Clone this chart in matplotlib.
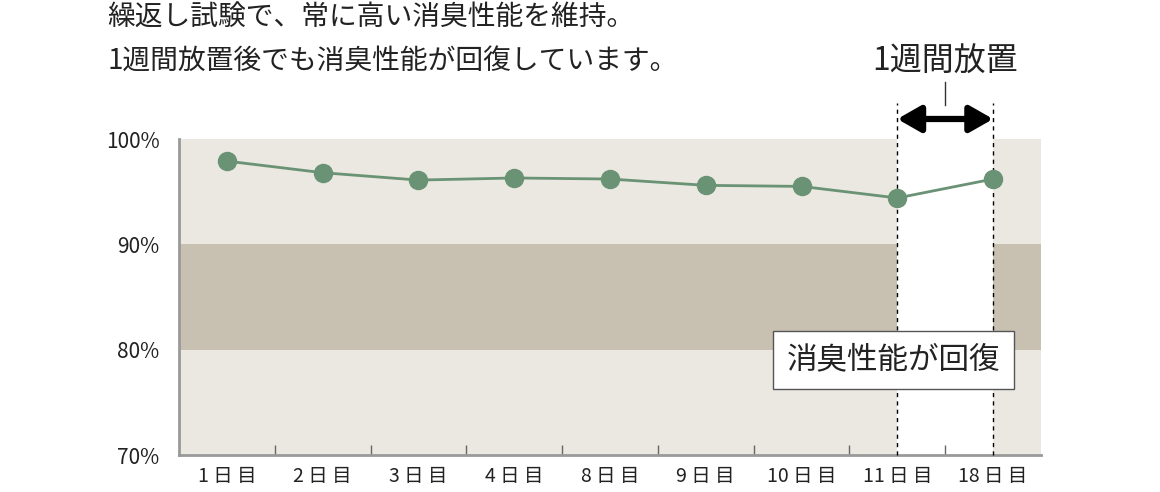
import numpy as np
import matplotlib.pyplot as plt

plt.rcParams['font.family'] = ['Noto Sans CJK JP', 'DejaVu Sans']

days = ['1 日 目', '2 日 目', '3 日 目', '4 日 目', '8 日 目', '9 日 目',
        '10 日 目', '11 日 目', '18 日 目']
values = [97.9, 96.8, 96.1, 96.3, 96.2, 95.6, 95.5, 94.4, 96.2]
yticks = [70, 80, 90, 100]
ytick_labels = ['70%', '80%', '90%', '100%']
title_lines = ['繰返し試験で、常に高い消臭性能を維持。', '1週間放置後でも消臭性能が回復しています。']
rest_label = '1週間放置'
recover_label = '消臭性能が回復'
rest_span = (7, 8)  # 11日目 -> 18日目

bg = '#EBE8E1'
band = '#C8C1B2'
green = '#6A9274'
txt = '#222222'

fig = plt.figure(figsize=(11.6, 4.92), dpi=100)
ax = fig.add_axes([179 / 1160, 37 / 492, 862 / 1160, 316 / 492])
ax.set_facecolor(bg)

x = np.arange(len(days))
ax.set_xlim(-0.5, len(days) - 0.5)
ax.set_ylim(70, 100)

ax.axhspan(80, 90, color=band, lw=0, zorder=0)
ax.axvspan(rest_span[0], rest_span[1], color='white', lw=0, zorder=1)

ax.plot(x, values, color=green, lw=2, marker='o', ms=13, zorder=4)

# dashed boundaries of the rest period
for xv in rest_span:
    ax.plot([xv, xv], [70, 103.4], color='black', lw=1, ls=(0, (3, 3)),
            clip_on=False, zorder=3)

ax.annotate('', xy=(rest_span[0], 101.9), xytext=(rest_span[1], 101.9),
            arrowprops=dict(arrowstyle='<|-|>,head_length=1.4,head_width=0.8',
                            lw=4.5, color='black', shrinkA=0, shrinkB=0),
            annotation_clip=False)
mid = (rest_span[0] + rest_span[1]) / 2
ax.plot([mid, mid], [103.2, 105.4], color='#333333', lw=1, clip_on=False)
ax.text(mid, 107.3, rest_label, ha='center', va='center', fontsize=23,
        color=txt, clip_on=False)

ax.text(6.96, 79.0, recover_label, ha='center', va='center', fontsize=22,
        color=txt, zorder=6,
        bbox=dict(boxstyle='square,pad=0.45', fc='white', ec='#555555', lw=1))

ax.set_yticks(yticks)
ax.set_yticklabels(ytick_labels, fontsize=15, color=txt)
ax.tick_params(axis='y', length=0, pad=14)

ax.set_xticks(x)
ax.set_xticklabels(days, fontsize=14, color=txt)
ax.set_xticks(np.arange(0.5, len(days) - 1), minor=True)
ax.tick_params(axis='x', which='major', length=0, pad=8)
ax.tick_params(axis='x', which='minor', length=7, direction='in', color='#666666', width=1)

for s in ['top', 'right']:
    ax.spines[s].set_visible(False)
for s in ['left', 'bottom']:
    ax.spines[s].set_color('#999999')
    ax.spines[s].set_linewidth(2)

fig.text(107 / 1160, 1 - 18 / 492, title_lines[0], ha='left', va='center',
         fontsize=20, color=txt)
fig.text(107 / 1160, 1 - 62 / 492, title_lines[1], ha='left', va='center',
         fontsize=20, color=txt)

fig.savefig('out.png', dpi=100)
